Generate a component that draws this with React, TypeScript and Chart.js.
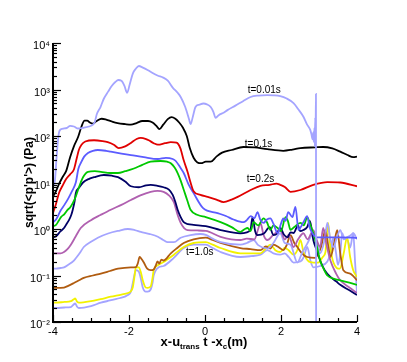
import React, { useEffect, useRef } from 'react';
import { Chart, registerables } from 'chart.js';

Chart.register(...registerables);

const FONT = '"Liberation Sans", Arial, Helvetica, sans-serif';

// Axis ticks
const xTickValues = [-4, -2, 0, 2, 4];
const yDecades = [0.01, 0.1, 1, 10, 100, 1000, 10000];
const yTickLabels = ['10⁻²', '10⁻¹', '10⁰', '10¹', '10²', '10³', '10⁴'];

// Curve annotations
const noteTexts = ['t=0.01s', 't=0.1s', 't=0.2s', 't=1.0s'];
const noteX = [1.56, 1.41, 1.46, -0.14];
const noteY = [980, 68, 12, 0.32];

// Series data: [x, sqrt(<p'p'>)]
const s001: number[][] = [[-4, 8], [-3.95, 11], [-3.9, 40], [-3.85, 110], [-3.79, 140], [-3.71, 145], [-3.63, 150], [-3.55, 165], [-3.45, 160], [-3.34, 145], [-3.2, 150], [-3.05, 160], [-2.95, 175], [-2.9, 200], [-2.85, 290], [-2.75, 420], [-2.66, 640], [-2.55, 900], [-2.45, 1200], [-2.36, 1450], [-2.28, 1600], [-2.2, 1550], [-2.12, 1200], [-2.05, 850], [-1.98, 1300], [-1.9, 2200], [-1.82, 2800], [-1.74, 3200], [-1.65, 3000], [-1.5, 2600], [-1.43, 2400], [-1.25, 2000], [-1.1, 1800], [-0.98, 1550], [-0.85, 1100], [-0.72, 850], [-0.64, 690], [-0.52, 420], [-0.42, 230], [-0.38, 180], [-0.32, 260], [-0.25, 420], [-0.15, 470], [-0.04, 500], [0.05, 480], [0.15, 420], [0.22, 330], [0.28, 245], [0.36, 280], [0.5, 320], [0.59, 360], [0.8, 450], [1.0, 560], [1.2, 690], [1.4, 740], [1.64, 760], [1.8, 750], [1.98, 720], [2.15, 640], [2.33, 510], [2.45, 380], [2.59, 260], [2.68, 180], [2.77, 135], [2.8, 110], [2.83, 85], [2.85, 120], [2.86, 75], [2.88, 150], [2.89, 60], [2.9, 250], [2.91, 130], [2.92, 800], [2.925, 0.001]];
const s01: number[][] = [[-4, 5], [-3.92, 6.5], [-3.85, 9], [-3.75, 13], [-3.65, 18], [-3.55, 35], [-3.45, 60], [-3.34, 95], [-3.25, 160], [-3.17, 215], [-3.1, 215], [-3.03, 195], [-2.95, 185], [-2.85, 210], [-2.72, 235], [-2.6, 225], [-2.45, 205], [-2.3, 190], [-2.1, 180], [-1.95, 175], [-1.8, 190], [-1.65, 210], [-1.5, 210], [-1.38, 195], [-1.28, 165], [-1.2, 140], [-1.1, 175], [-0.98, 230], [-0.88, 255], [-0.78, 235], [-0.68, 195], [-0.58, 150], [-0.48, 100], [-0.4, 55], [-0.3, 34], [-0.2, 27], [-0.1, 26], [0.02, 28], [0.15, 28], [0.3, 36], [0.45, 44], [0.7, 50], [1.01, 58], [1.3, 57], [1.64, 52], [2.06, 48], [2.3, 51], [2.51, 55], [2.9, 57], [3.11, 58], [3.35, 54], [3.56, 46], [3.75, 39], [3.9, 35], [4, 36]];
const s02: number[][] = [[-4, 2.2], [-3.92, 3.5], [-3.84, 6], [-3.75, 8.5], [-3.65, 12], [-3.55, 15], [-3.45, 19], [-3.38, 32], [-3.32, 50], [-3.25, 65], [-3.15, 76], [-2.92, 81], [-2.7, 78], [-2.56, 74], [-2.4, 65], [-2.27, 55], [-2.1, 60], [-1.95, 71], [-1.8, 86], [-1.69, 91], [-1.55, 86], [-1.48, 81], [-1.35, 70], [-1.24, 65], [-1.05, 70], [-0.9, 74], [-0.75, 72], [-0.65, 55], [-0.56, 30], [-0.46, 17], [-0.38, 10], [-0.3, 6.5], [-0.12, 5.4], [0.07, 4.9], [0.3, 4.3], [0.49, 3.8], [0.7, 4.3], [0.86, 4.9], [1.2, 6.9], [1.46, 8.5], [1.7, 8.9], [1.88, 9.5], [1.98, 8.9], [2.1, 8], [2.25, 6.3], [2.51, 6.9], [2.85, 8.9], [3.22, 10.2], [3.56, 10], [4, 8.3]];
const s03: number[][] = [[-4, 1.4], [-3.92, 1.6], [-3.8, 2.5], [-3.7, 3.3], [-3.6, 4.5], [-3.5, 6.5], [-3.4, 10], [-3.33, 20], [-3.27, 26], [-3.18, 36], [-3.08, 43], [-2.95, 48], [-2.82, 50], [-2.6, 48], [-2.48, 46], [-2.2, 42], [-1.95, 39], [-1.61, 35], [-1.24, 32], [-1.03, 34], [-0.85, 32], [-0.77, 29], [-0.65, 21], [-0.56, 16], [-0.43, 9], [-0.3, 5.9], [-0.05, 2.8], [0.33, 2.2], [0.55, 1.9], [0.75, 1.6], [1.01, 1.4], [1.1, 1.55], [1.2, 1.9], [1.3, 1.7], [1.38, 2.3], [1.46, 1.55], [1.54, 1.35], [1.63, 1.6], [1.72, 1.7], [1.8, 1.3], [1.91, 0.82], [2.0, 1.3], [2.06, 1.7], [2.12, 1.5], [2.19, 2.3], [2.3, 1.8], [2.38, 3.0], [2.46, 0.95], [2.52, 1.1], [2.59, 1.4], [2.69, 1.9], [2.75, 1.1], [2.82, 0.82], [2.95, 0.66], [3.5, 0.66], [3.9, 0.65], [4, 0.64]];
const s04: number[][] = [[-4, 1.15], [-3.92, 1.23], [-3.85, 1.5], [-3.79, 1.8], [-3.7, 2.1], [-3.61, 2.6], [-3.55, 2.9], [-3.48, 3.6], [-3.4, 5], [-3.34, 7], [-3.27, 10], [-3.21, 13], [-3.08, 17], [-2.9, 17.5], [-2.74, 17], [-2.5, 16], [-2.29, 16], [-2.1, 17.5], [-1.87, 20], [-1.65, 24], [-1.43, 28], [-1.17, 29], [-1.0, 28], [-0.9, 26], [-0.8, 21], [-0.72, 16], [-0.64, 11], [-0.56, 7], [-0.47, 4.2], [-0.38, 2.6], [-0.19, 2.0], [0.02, 1.8], [0.41, 1.4], [0.7, 1.1], [0.93, 0.87], [1.05, 1.0], [1.12, 1.05], [1.2, 0.9], [1.28, 1.4], [1.4, 1.2], [1.54, 1.7], [1.63, 1.4], [1.72, 0.96], [1.8, 1.2], [1.91, 1.05], [2.0, 0.9], [2.12, 1.8], [2.18, 1.5], [2.25, 0.96], [2.35, 1.1], [2.51, 1.35], [2.6, 1.2], [2.69, 1.8], [2.76, 1.3], [2.85, 0.82], [2.95, 0.4], [3.03, 0.21], [3.12, 0.14], [3.22, 0.1], [3.4, 0.085], [3.56, 0.079], [3.8, 0.07], [4, 0.063]];
const s05: number[][] = [[-4, 0.65], [-3.92, 0.7], [-3.8, 0.9], [-3.71, 1.05], [-3.64, 1.3], [-3.58, 1.55], [-3.52, 2.0], [-3.48, 2.6], [-3.43, 4], [-3.4, 5.9], [-3.3, 8], [-3.21, 10], [-3.05, 12], [-2.92, 13], [-2.66, 14.5], [-2.45, 14], [-2.29, 13], [-2.1, 10.5], [-1.95, 8.3], [-1.74, 7.9], [-1.55, 8.7], [-1.43, 8.9], [-1.25, 8.5], [-1.09, 7.9], [-0.95, 7], [-0.85, 5.4], [-0.78, 3.8], [-0.72, 2.6], [-0.64, 1.8], [-0.56, 1.4], [-0.45, 1.28], [-0.3, 1.23], [0.02, 1.15], [0.41, 0.95], [0.93, 0.81], [1.1, 0.85], [1.2, 1.0], [1.25, 1.8], [1.32, 0.9], [1.38, 0.74], [1.55, 0.8], [1.7, 1.1], [1.8, 0.74], [1.9, 0.8], [1.98, 1.05], [2.08, 0.75], [2.17, 0.66], [2.25, 0.85], [2.33, 0.82], [2.45, 1.2], [2.5, 0.9], [2.59, 0.95], [2.69, 1.1], [2.76, 1.5], [2.85, 0.58], [2.95, 0.33], [3.03, 0.21], [3.15, 0.13], [3.3, 0.093], [3.45, 0.075], [3.56, 0.063], [3.8, 0.048], [4, 0.038]];
const s06: number[][] = [[-4, 0.3], [-3.92, 0.3], [-3.8, 0.3], [-3.71, 0.32], [-3.62, 0.37], [-3.53, 0.46], [-3.4, 0.7], [-3.27, 1.05], [-3.0, 1.55], [-2.75, 2.0], [-2.48, 2.6], [-2.2, 3.3], [-1.95, 4.2], [-1.7, 5.3], [-1.43, 6.3], [-1.25, 6.6], [-1.09, 6.3], [-0.95, 5.3], [-0.82, 3.8], [-0.72, 2.0], [-0.64, 1.35], [-0.55, 1.05], [-0.46, 0.95], [-0.2, 0.93], [0.02, 0.91], [0.41, 0.68], [0.93, 0.58], [1.1, 0.62], [1.3, 0.6], [1.4, 1.0], [1.46, 1.35], [1.54, 0.75], [1.64, 0.58], [1.8, 0.75], [1.98, 0.95], [2.1, 0.6], [2.2, 0.75], [2.33, 0.41], [2.45, 0.6], [2.59, 0.81], [2.7, 0.6], [2.85, 0.95], [2.95, 0.55], [3.03, 0.41], [3.11, 1.05], [3.2, 0.45], [3.3, 0.21], [3.45, 0.11], [3.56, 0.079], [3.8, 0.055], [4, 0.042]];
const s07: number[][] = [[-4, 0.14], [-3.92, 0.14], [-3.8, 0.145], [-3.71, 0.15], [-3.6, 0.17], [-3.45, 0.21], [-3.3, 0.3], [-3.19, 0.41], [-3.0, 0.53], [-2.82, 0.65], [-2.55, 0.8], [-2.29, 0.91], [-2.03, 1.0], [-1.85, 0.95], [-1.69, 0.87], [-1.45, 0.78], [-1.24, 0.68], [-1.1, 0.58], [-0.98, 0.52], [-0.82, 0.52], [-0.64, 0.65], [-0.38, 0.74], [-0.12, 0.78], [0.02, 0.75], [0.2, 0.62], [0.41, 0.52], [0.93, 0.46], [1.1, 0.5], [1.28, 0.58], [1.4, 0.45], [1.64, 0.38], [1.8, 0.5], [1.98, 0.81], [2.1, 0.5], [2.25, 0.46], [2.43, 0.19], [2.55, 0.3], [2.7, 0.5], [2.85, 0.81], [2.95, 0.5], [3.03, 0.3], [3.15, 0.6], [3.22, 1.35], [3.3, 0.6], [3.38, 0.41], [3.48, 0.7], [3.56, 0.95], [3.65, 0.6], [3.74, 0.66], [3.85, 0.75], [3.9, 0.81], [4, 0.6]];
const s08: number[][] = [[-4, 0.054], [-3.92, 0.054], [-3.71, 0.055], [-3.6, 0.06], [-3.45, 0.069], [-3.3, 0.08], [-3.19, 0.089], [-2.95, 0.1], [-2.74, 0.11], [-2.5, 0.125], [-2.29, 0.14], [-1.95, 0.15], [-1.82, 0.152], [-1.77, 0.18], [-1.72, 0.25], [-1.66, 0.22], [-1.61, 0.19], [-1.52, 0.14], [-1.43, 0.13], [-1.35, 0.135], [-1.3, 0.16], [-1.25, 0.2], [-1.2, 0.18], [-1.15, 0.22], [-1.09, 0.21], [-0.9, 0.3], [-0.75, 0.38], [-0.56, 0.5], [-0.3, 0.6], [0.02, 0.65], [0.2, 0.58], [0.41, 0.5], [0.93, 0.39], [1.2, 0.37], [1.46, 0.35], [1.6, 0.42], [1.72, 0.38], [1.8, 0.46], [1.95, 0.4], [2.06, 0.35], [2.15, 0.45], [2.25, 0.74], [2.35, 0.5], [2.43, 0.41], [2.55, 0.3], [2.69, 0.25], [2.9, 0.24], [3.05, 0.4], [3.17, 0.95], [3.25, 0.4], [3.3, 0.25], [3.4, 0.5], [3.48, 0.95], [3.56, 0.3], [3.64, 0.13], [3.82, 0.11], [4, 0.079]];
const s09: number[][] = [[-4, 0.026], [-3.92, 0.026], [-3.7, 0.027], [-3.53, 0.028], [-3.45, 0.031], [-3.42, 0.032], [-3.36, 0.027], [-3.32, 0.026], [-3.0, 0.028], [-2.75, 0.031], [-2.48, 0.035], [-2.2, 0.039], [-2.03, 0.042], [-1.95, 0.046], [-1.9, 0.056], [-1.86, 0.09], [-1.82, 0.15], [-1.74, 0.15], [-1.68, 0.11], [-1.64, 0.08], [-1.56, 0.055], [-1.51, 0.054], [-1.43, 0.058], [-1.38, 0.09], [-1.35, 0.13], [-1.22, 0.17], [-1.09, 0.195], [-0.82, 0.28], [-0.56, 0.41], [-0.3, 0.5], [0.02, 0.52], [0.2, 0.46], [0.41, 0.39], [0.93, 0.3], [1.2, 0.3], [1.46, 0.3], [1.6, 0.38], [1.72, 0.46], [1.85, 0.35], [1.98, 0.32], [2.1, 0.39], [2.2, 0.35], [2.33, 0.28], [2.43, 0.35], [2.51, 0.58], [2.6, 0.3], [2.77, 0.195], [2.98, 0.19], [3.1, 0.25], [3.17, 0.32], [3.24, 1.35], [3.3, 0.4], [3.38, 0.19], [3.55, 0.14], [3.65, 0.3], [3.74, 0.66], [3.82, 0.25], [3.9, 0.13], [4, 0.093]];
const s10: number[][] = [[-4, 0.02], [-3.92, 0.02], [-3.7, 0.0205], [-3.53, 0.021], [-3.45, 0.024], [-3.42, 0.025], [-3.36, 0.021], [-3.32, 0.02], [-3.0, 0.022], [-2.74, 0.026], [-2.5, 0.029], [-2.29, 0.032], [-2.03, 0.038], [-1.95, 0.045], [-1.9, 0.069], [-1.86, 0.1], [-1.82, 0.13], [-1.74, 0.12], [-1.68, 0.08], [-1.64, 0.056], [-1.56, 0.045], [-1.51, 0.045], [-1.43, 0.05], [-1.38, 0.07], [-1.35, 0.1], [-1.22, 0.15], [-1.09, 0.16], [-0.82, 0.24], [-0.56, 0.39], [-0.3, 0.46], [0.02, 0.46], [0.2, 0.39], [0.41, 0.32], [0.93, 0.25], [1.2, 0.26], [1.46, 0.28], [1.64, 0.35], [1.8, 0.3], [1.98, 0.28], [2.1, 0.3], [2.2, 0.25], [2.33, 0.19], [2.51, 0.2], [2.6, 0.25], [2.69, 0.41], [2.78, 0.2], [2.85, 0.15], [3.03, 0.16], [3.22, 0.2], [3.3, 0.3], [3.38, 0.65], [3.45, 0.3], [3.5, 0.17], [3.56, 0.3], [3.61, 0.81], [3.68, 0.6], [3.74, 0.6], [3.82, 0.4], [3.9, 0.81], [3.95, 0.19], [4, 0.042]];

const seriesNames = ['t=0.01s', 't=0.1s', 't=0.2s', 't=0.3s', 't=0.4s', 't=0.5s', 't=0.6s', 't=0.7s', 't=0.8s', 't=0.9s', 't=1.0s'];
const seriesData = [s001, s01, s02, s03, s04, s05, s06, s07, s08, s09, s10];
const seriesColors = ['#a4a4ff', '#000000', '#e00000', '#5c5cff', '#00c800', '#000066', '#b060b0', '#a4a4ff', '#b05c10', '#f2f200', '#a4a4ff'];

const decorPlugin = {
  id: 'decor',
  afterDatasetsDraw(chart: any) {
    const { ctx, chartArea, scales } = chart;
    const xs = scales.x;
    const ys = scales.y;
    const L = chartArea.left;
    const B = chartArea.bottom;
    ctx.save();
    ctx.strokeStyle = '#000';
    ctx.lineWidth = 1.2;
    // y ticks (inward, major + minor)
    for (let d = 0; d < yDecades.length; d++) {
      const base = yDecades[d];
      for (let m = 1; m <= 9; m++) {
        if (d === yDecades.length - 1 && m > 1) break;
        const y = Math.round(ys.getPixelForValue(base * m)) + 0.5;
        const len = m === 1 ? 8 : 4;
        ctx.beginPath();
        ctx.moveTo(L, y);
        ctx.lineTo(L + len, y);
        ctx.stroke();
      }
    }
    // x ticks (inward)
    for (let v = -4; v <= 4.001; v += 0.5) {
      const x = Math.round(xs.getPixelForValue(v)) + 0.5;
      const isMajor = Math.abs(v % 2) < 1e-6;
      const len = isMajor ? 7 : 4;
      ctx.beginPath();
      ctx.moveTo(x, B);
      ctx.lineTo(x, B - len);
      ctx.stroke();
    }
    // axis lines
    ctx.lineWidth = 2;
    ctx.beginPath();
    ctx.moveTo(L, chartArea.top);
    ctx.lineTo(L, B);
    ctx.lineTo(chartArea.right, B);
    ctx.stroke();

    // curve labels
    ctx.fillStyle = '#000';
    ctx.font = `10px ${FONT}`;
    ctx.textAlign = 'center';
    ctx.textBaseline = 'middle';
    for (let i = 0; i < noteTexts.length; i++) {
      ctx.fillText(noteTexts[i], xs.getPixelForValue(noteX[i]), ys.getPixelForValue(noteY[i]));
    }

    // y axis title
    ctx.save();
    ctx.translate(30, (chartArea.top + B) / 2);
    ctx.rotate(-Math.PI / 2);
    ctx.font = `bold 12px ${FONT}`;
    ctx.textAlign = 'center';
    ctx.textBaseline = 'middle';
    ctx.fillText("sqrt(<p'p'>) (Pa)", 0, 0);
    ctx.restore();

    // x axis title with subscripts
    const parts: [string, boolean][] = [['x-u', false], ['trans', true], [' t -x', false], ['c', true], ['(m)', false]];
    const bigFont = `bold 13px ${FONT}`;
    const smallFont = `bold 8px ${FONT}`;
    let total = 0;
    for (const [t, sub] of parts) {
      ctx.font = sub ? smallFont : bigFont;
      total += ctx.measureText(t).width;
    }
    let x = (L + chartArea.right) / 2 - total / 2 - 1;
    const baseY = 346;
    ctx.textAlign = 'left';
    ctx.textBaseline = 'alphabetic';
    for (const [t, sub] of parts) {
      ctx.font = sub ? smallFont : bigFont;
      ctx.fillText(t, x, sub ? baseY + 3 : baseY);
      x += ctx.measureText(t).width;
    }
    ctx.restore();
  },
};

export default function App() {
  const ref = useRef<HTMLCanvasElement | null>(null);
  useEffect(() => {
    if (!ref.current) return;
    const chart = new Chart(ref.current, {
      type: 'line',
      data: {
        datasets: seriesData.map((d, i) => ({
          label: seriesNames[i],
          data: d.map(([x, y]) => ({ x, y })),
          borderColor: seriesColors[i],
          backgroundColor: seriesColors[i],
          borderWidth: 1.8,
          pointRadius: 0,
          tension: 0.3,
          cubicInterpolationMode: 'monotone' as const,
          fill: false,
        })),
      },
      options: {
        responsive: false,
        animation: false,
        devicePixelRatio: 1,
        layout: { padding: { top: 43, right: 50, left: 0, bottom: 0 } },
        plugins: { legend: { display: false }, tooltip: { enabled: false }, title: { display: false } },
        scales: {
          x: {
            type: 'linear',
            min: -4,
            max: 4,
            afterBuildTicks: (s: any) => { s.ticks = xTickValues.map((v) => ({ value: v })); },
            afterFit: (s: any) => { s.height = 40; },
            grid: { display: false, drawTicks: false },
            border: { display: false },
            ticks: { color: '#000', font: { size: 11, family: FONT }, padding: 3, maxRotation: 0, autoSkip: false },
          },
          y: {
            type: 'logarithmic',
            min: 0.01,
            max: 10000,
            afterBuildTicks: (s: any) => { s.ticks = yDecades.map((v) => ({ value: v, major: true })); },
            afterFit: (s: any) => { s.width = 53; },
            grid: { display: false, drawTicks: false },
            border: { display: false },
            ticks: {
              color: '#000',
              font: { size: 11, family: FONT },
              padding: 3,
              labelOffset: 3,
              autoSkip: false,
              callback: (_v: any, i: number) => yTickLabels[i],
            },
          },
        },
      },
      plugins: [decorPlugin],
    } as any);
    return () => chart.destroy();
  }, []);
  return (
    <div style={{ position: 'absolute', left: 0, top: 0, width: 407, height: 362, background: '#fff' }}>
      <canvas ref={ref} width={407} height={362} />
    </div>
  );
}
